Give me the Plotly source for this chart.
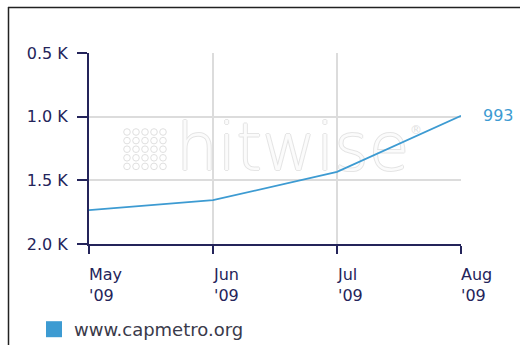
import plotly.graph_objects as go

# Monthly rank data for the site
months = ["May", "Jun", "Jul", "Aug"]
years = ["'09", "'09", "'09", "'09"]
visits = [1734, 1656, 1433, 993]
site = "www.capmetro.org"

y_ticks = [500, 1000, 1500, 2000]
y_ticktext = ["0.5 K", "1.0 K", "1.5 K", "2.0 K"]

NAVY = "#24245a"
LINE = "#3d9bd2"
GRID = "#dcdcdc"
MARK = "#e0e0e0"
FONT = "DejaVu Sans"

W, H = 520, 345
L, R, T, B = 89, 59, 53, 101
pw, ph = W - L - R, H - T - B
X_RANGE = [0, 3]
Y_RANGE = [2000, 500]


def px_x(p):
    return (p - L) / pw


def px_y(p):
    return (H - B - p) / ph


def data_x(p):
    return X_RANGE[0] + px_x(p) * (X_RANGE[1] - X_RANGE[0])


def data_y(p):
    return Y_RANGE[0] + px_y(p) * (Y_RANGE[1] - Y_RANGE[0])


xs = list(range(len(months)))

fig = go.Figure()
# watermark word, placed first so the series line draws over it
fig.add_trace(go.Scatter(
    x=[data_x(176)], y=[data_y(153)], mode="text",
    text=["hitwise"], textposition="middle right",
    textfont=dict(family=FONT, size=66, color="rgba(255,255,255,0.85)", weight=200,
                  shadow=f"1px 0 0 {MARK}, -1px 0 0 {MARK}, 0 1px 0 {MARK}, 0 -1px 0 {MARK}"),
    showlegend=False, hoverinfo="skip",
))
fig.add_trace(go.Scatter(
    x=xs, y=visits, mode="lines",
    line=dict(color=LINE, width=1.8),
    showlegend=False, hoverinfo="skip",
))
# legend entry drawn as a square swatch
fig.add_trace(go.Scatter(
    x=[None], y=[None], mode="markers", name=site,
    marker=dict(symbol="square", size=18, color=LINE),
))

annotations = []
for i, (m, yr) in enumerate(zip(months, years)):
    annotations.append(dict(
        x=xs[i], xref="x", y=0, yref="paper",
        text=f"{m}<br>{yr}", showarrow=False,
        xanchor="left", yanchor="top", align="left",
        xshift=-2, yshift=-19,
        font=dict(family=FONT, size=16, color=NAVY),
    ))

# value label at the last point
annotations.append(dict(
    x=xs[-1], xref="x", y=visits[-1], yref="y",
    text=str(visits[-1]), showarrow=False,
    xanchor="left", yanchor="middle", xshift=20,
    font=dict(family=FONT, size=16, color=LINE),
))

annotations.append(dict(
    x=px_x(416), xref="paper", y=px_y(130), yref="paper",
    text="®", showarrow=False, xanchor="center", yanchor="middle",
    font=dict(family=FONT, size=12, color=MARK),
))

shapes = [
    dict(type="line", xref="paper", yref="paper",
         x0=px_x(8.5), x1=px_x(8.5), y0=px_y(7), y1=px_y(345),
         line=dict(color="#222222", width=1.5)),
    dict(type="line", xref="paper", yref="paper",
         x0=px_x(8), x1=px_x(520), y0=px_y(7.5), y1=px_y(7.5),
         line=dict(color="#222222", width=1.5)),
]

# watermark dot grid (5 x 5 small rings)
for r in range(5):
    for c in range(5):
        cx, cy = 127 + c * 9, 132 + r * 8.6
        shapes.append(dict(
            type="circle", xref="paper", yref="paper", layer="below",
            x0=px_x(cx - 3.3), x1=px_x(cx + 3.3),
            y0=px_y(cy + 3.3), y1=px_y(cy - 3.3),
            line=dict(color=MARK, width=1),
        ))

fig.update_layout(
    width=W, height=H,
    margin=dict(l=L, r=R, t=T, b=B, autoexpand=False),
    paper_bgcolor="white", plot_bgcolor="white",
    annotations=annotations, shapes=shapes,
    showlegend=True,
    legend=dict(
        xref="container", yref="container",
        x=34 / W, y=1 - 311 / H, xanchor="left", yanchor="top",
        font=dict(family=FONT, size=18, color="#3a3a4a"),
        bgcolor="rgba(0,0,0,0)", itemwidth=30,
    ),
    xaxis=dict(
        range=X_RANGE, tickvals=xs, ticktext=[""] * len(xs),
        showline=True, linecolor=NAVY, linewidth=2,
        ticks="outside", ticklen=8, tickwidth=2, tickcolor=NAVY,
        showgrid=True, gridcolor=GRID, gridwidth=1.5, zeroline=False,
        fixedrange=True,
    ),
    yaxis=dict(
        range=Y_RANGE, tickvals=y_ticks, ticktext=y_ticktext,
        showline=True, linecolor=NAVY, linewidth=2,
        ticks="outside", ticklen=10, tickwidth=2, tickcolor=NAVY,
        showgrid=True, gridcolor=GRID, gridwidth=1.5, zeroline=False,
        tickfont=dict(family=FONT, size=16, color=NAVY),
        ticklabelstandoff=6, fixedrange=True,
    ),
)

fig.write_html("out.html", config={"displayModeBar": False})
